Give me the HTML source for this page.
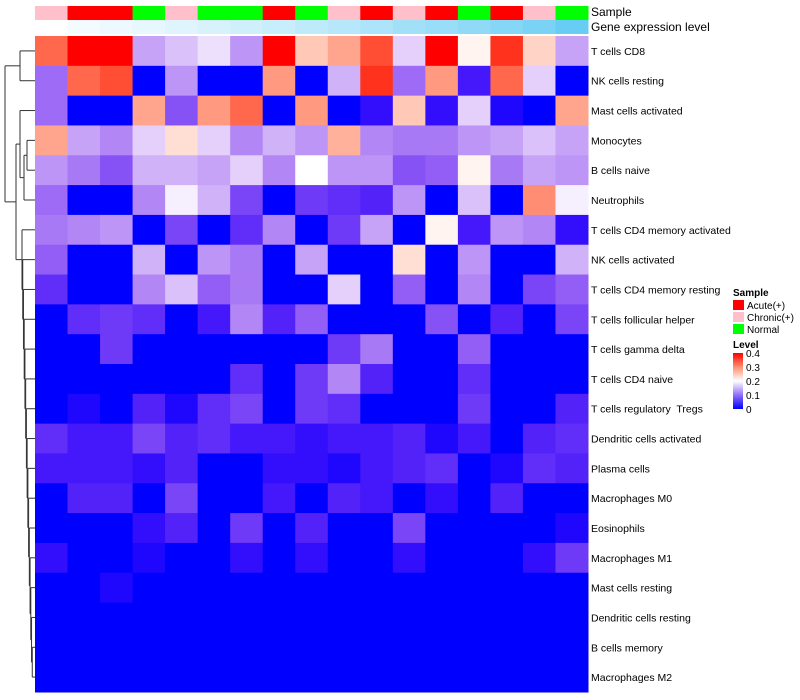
<!DOCTYPE html>
<html><head><meta charset="utf-8">
<style>
html,body{margin:0;padding:0;background:#fff;}
svg{display:block;font-family:"Liberation Sans",Arial,sans-serif;}
#rowlabels text{white-space:pre;}
</style></head>
<body>
<svg id="chart" width="800" height="700" viewBox="0 0 800 700" xmlns="http://www.w3.org/2000/svg">
<g id="dendro"></g>
<g id="annot"></g>
<g id="cells"></g>
<g id="rowlabels"></g>
<text x="591" y="16" font-size="12">Sample</text>
<text x="591" y="31" font-size="12">Gene expression level</text>
<g id="legend">
<text x="733" y="296" font-size="10" font-weight="bold">Sample</text>
<rect x="733" y="300" width="11" height="10" fill="#ff0000"/>
<text x="747" y="309" font-size="10">Acute(+)</text>
<rect x="733" y="312" width="11" height="10" fill="#ffc0cb"/>
<text x="747" y="321" font-size="10">Chronic(+)</text>
<rect x="733" y="324" width="11" height="10" fill="#00ff00"/>
<text x="747" y="333" font-size="10">Normal</text>
<text x="733" y="348" font-size="10" font-weight="bold">Level</text>
<defs><linearGradient id="lg" x1="0" y1="1" x2="0" y2="0"><stop offset="0" stop-color="#0000ff"/><stop offset="0.25" stop-color="#9070f8"/><stop offset="0.5" stop-color="#ffffff"/><stop offset="0.75" stop-color="#ff9070"/><stop offset="1" stop-color="#ff0000"/></linearGradient></defs>
<rect x="733" y="353" width="10" height="56" fill="url(#lg)"/>
<g id="levelticks"></g>
</g>
</svg>
<script>
const rowNames=["T cells CD8","NK cells resting","Mast cells activated","Monocytes","B cells naive","Neutrophils","T cells CD4 memory activated","NK cells activated","T cells CD4 memory resting","T cells follicular helper","T cells gamma delta","T cells CD4 naive","T cells regulatory  Tregs","Dendritic cells activated","Plasma cells","Macrophages M0","Eosinophils","Macrophages M1","Mast cells resting","Dendritic cells resting","B cells memory","Macrophages M2"];
const sampleGroups=["Chronic","Acute","Acute","Normal","Chronic","Normal","Normal","Acute","Normal","Chronic","Acute","Chronic","Acute","Normal","Acute","Chronic","Normal"];
const geneLevel=[0,0.06,0.1,0.14,0.18,0.22,0.27,0.31,0.36,0.41,0.46,0.52,0.57,0.62,0.68,0.75,0.85];
const levelTicks=[0,0.1,0.2,0.3,0.4];
const r0=[0.33,0.4,0.4,0.14,0.16,0.18,0.13,0.4,0.25,0.28,0.35,0.17,0.4,0.21,0.37,0.24,0.14];
const r1=[0.1,0.33,0.35,0,0.13,0,0,0.29,0,0.15,0.37,0.1,0.29,0.03,0.33,0.17,0];
const r2=[0.1,0,0,0.28,0.08,0.29,0.33,0,0.29,0,0.02,0.25,0.02,0.17,0.01,0,0.28];
const r3=[0.28,0.14,0.12,0.17,0.23,0.17,0.12,0.15,0.13,0.27,0.12,0.11,0.11,0.13,0.14,0.16,0.14];
const r4=[0.13,0.11,0.08,0.15,0.15,0.14,0.17,0.12,0.2,0.13,0.13,0.08,0.09,0.21,0.11,0.14,0.13];
const r5=[0.1,0,0,0.12,0.19,0.15,0.07,0,0.06,0.05,0.04,0.13,0,0.16,0,0.3,0.19];
const r6=[0.11,0.12,0.13,0,0.07,0,0.05,0.12,0,0.06,0.14,0,0.21,0.03,0.13,0.12,0.02];
const r7=[0.09,0,0,0.15,0,0.13,0.11,0,0.14,0,0,0.23,0,0.13,0,0,0.15];
const r8=[0.05,0,0,0.12,0.16,0.09,0.11,0,0,0.17,0,0.09,0,0.12,0,0.07,0.09];
const r9=[0,0.05,0.06,0.05,0,0.03,0.12,0.04,0.09,0,0,0,0.08,0,0.04,0,0.07];
const r10=[0,0,0.06,0,0,0,0,0,0,0.06,0.11,0,0,0.09,0,0,0];
const r11=[0,0,0,0,0,0,0.05,0,0.06,0.12,0.04,0,0,0.05,0,0,0];
const r12=[0,0.01,0,0.04,0.01,0.05,0.07,0,0.06,0.05,0,0,0,0.06,0,0,0.04];
const r13=[0.05,0.03,0.03,0.07,0.04,0.05,0.03,0.03,0.02,0.03,0.03,0.04,0.01,0.03,0,0.04,0.05];
const r14=[0.03,0.03,0.03,0.02,0.04,0,0,0.02,0.02,0.01,0.03,0.04,0.05,0,0.01,0.05,0.04];
const r15=[0,0.04,0.04,0,0.07,0,0,0.03,0,0.04,0.03,0,0.02,0,0.04,0,0];
const r16=[0,0,0,0.02,0.04,0,0.06,0,0.04,0,0,0.07,0,0,0,0,0.01];
const r17=[0.02,0,0,0.01,0,0,0.02,0,0.02,0,0,0.02,0,0,0,0.02,0.06];
const r18=[0,0,0.01,0,0,0,0,0,0,0,0,0,0,0,0,0,0];
const r19=[0,0,0,0,0,0,0,0,0,0,0,0,0,0,0,0,0];
const r20=[0,0,0,0,0,0,0,0,0,0,0,0,0,0,0,0,0];
const r21=[0,0,0,0,0,0,0,0,0,0,0,0,0,0,0,0,0];
const matrix=[r0,r1,r2,r3,r4,r5,r6,r7,r8,r9,r10,r11,r12,r13,r14,r15,r16,r17,r18,r19,r20,r21];

const NS="http://www.w3.org/2000/svg";
const X0=35,X1=588,Y0=36,Y1=692;
const nC=sampleGroups.length,nR=rowNames.length;
const cw=(X1-X0)/nC,rh=(Y1-Y0)/nR;
const xPos=c=>X0+c*cw;
const yPos=r=>Y0+r*rh;
function colorScale(v){
  let t=Math.max(0,Math.min(0.4,v))/0.4;
  let r,g,b;
  if(t<0.5){const u=t/0.5;r=Math.round(255*Math.pow(u,0.7));g=Math.round(255*Math.pow(u,1.25));b=Math.round(255-10*Math.sin(Math.PI*u));}
  else{const u=(t-0.5)/0.5;r=255;g=Math.round(255*Math.pow(1-u,0.85));b=Math.round(255*Math.pow(1-u,1.15));}
  return `rgb(${r},${g},${b})`;
}
const groupColor={Acute:"#ff0000",Chronic:"#ffc0cb",Normal:"#00ff00"};
function geneColor(v){
  const r=Math.round(255+(77-255)*v),g=Math.round(255+(196-255)*v),b=Math.round(255+(242-255)*v);
  return `rgb(${r},${g},${b})`;
}
const cells=document.getElementById('cells');
matrix.forEach((row,ri)=>{row.forEach((v,ci)=>{
  const el=document.createElementNS(NS,'rect');
  el.setAttribute('x',xPos(ci));el.setAttribute('y',yPos(ri));
  el.setAttribute('width',cw+0.5);el.setAttribute('height',rh+0.5);
  el.setAttribute('fill',colorScale(v));
  
  
  cells.appendChild(el);
});});
const annot=document.getElementById('annot');
sampleGroups.forEach((g,ci)=>{
  const el=document.createElementNS(NS,'rect');
  el.setAttribute('x',xPos(ci));el.setAttribute('y',6);el.setAttribute('width',cw+0.5);el.setAttribute('height',14);
  el.setAttribute('fill',groupColor[g]);
  
  
  annot.appendChild(el);
});
geneLevel.forEach((v,ci)=>{
  const el=document.createElementNS(NS,'rect');
  el.setAttribute('x',xPos(ci));el.setAttribute('y',20);el.setAttribute('width',cw+0.5);el.setAttribute('height',14);
  el.setAttribute('fill',geneColor(v));
  
  
  annot.appendChild(el);
});
const rl=document.getElementById('rowlabels');
rowNames.forEach((n,ri)=>{
  const t=document.createElementNS(NS,'text');
  t.setAttribute('x',591);t.setAttribute('y',yPos(ri)+rh/2+4);t.setAttribute('font-size','10.5');
  t.textContent=n;
  
  
  rl.appendChild(t);
});
const lt=document.getElementById('levelticks');
levelTicks.forEach(v=>{
  const y=409-v/0.4*56;
  const t=document.createElementNS(NS,'text');
  t.setAttribute('x',746);t.setAttribute('y',y+4);t.setAttribute('font-size','10');
  t.textContent=v===0?"0":String(v);
  
  
  lt.appendChild(t);
});
const dg=document.getElementById('dendro');
function line(x1,y1,x2,y2){
  const l=document.createElementNS(NS,'path');
  l.setAttribute('d',`M${x1},${y1}L${x2},${y2}`);
  l.setAttribute('stroke','#333');l.setAttribute('stroke-width','1');l.setAttribute('fill','none');
  
  
  dg.appendChild(l);
}
function leaf(i){return {x:X0,y:yPos(i)+rh/2};}
function merge(a,b,h){line(a.x,a.y,h,a.y);line(b.x,b.y,h,b.y);line(h,a.y,h,b.y);return {x:h,y:(a.y+b.y)/2};}
const A=merge(leaf(0),leaf(1),20);
const B=merge(leaf(3),leaf(4),27);
const C=merge(B,leaf(5),24);
const D=merge(leaf(2),C,20);
let chain=leaf(21);
for(let i=20;i>=6;i--){chain=merge(leaf(i),chain,22+(i-6)*(11/15));}
const E=merge(D,chain,16);
merge(A,E,5);
</script>
</body></html>
